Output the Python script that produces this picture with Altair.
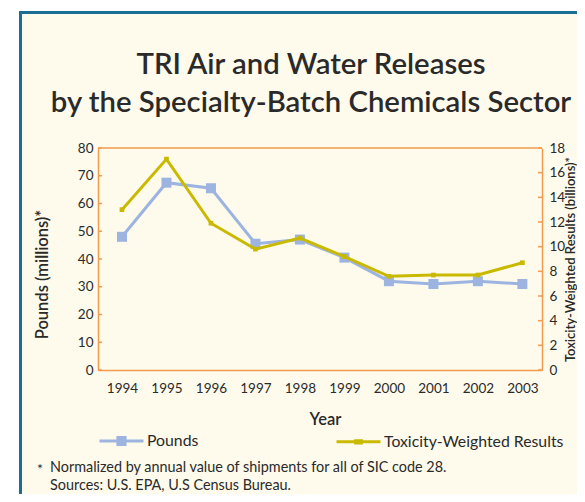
import altair as alt
import pandas as pd

# ---------------- data ----------------
years = ["1994", "1995", "1996", "1997", "1998", "1999", "2000", "2001", "2002", "2003"]
pounds = [48, 67.5, 65.5, 45.5, 47, 40.5, 32, 31, 32, 31]
toxicity = [13, 17.1, 11.9, 9.8, 10.7, 9.2, 7.6, 7.7, 7.7, 8.7]
left_ticks = [0, 10, 20, 30, 40, 50, 60, 70, 80]
right_ticks = [0, 2, 4, 6, 8, 10, 12, 14, 16, 18]
series = ["Pounds", "Toxicity-Weighted Results"]
title_lines = ["TRI Air and Water Releases", "by the Specialty-Batch Chemicals Sector"]
footnote_star = "*"
footnote_lines = ["Normalized by annual value of shipments for all of SIC code 28.",
                  "Sources: U.S. EPA, U.S Census Bureau."]

# ---------------- style ----------------
W, H = 444, 222
ORANGE = "#f39a4c"
BLUE = "#9db4e0"
OLIVE = "#c9b900"
CREAM = "#fefbec"
BORDER = "#1a6e93"
TEXT = "#2a2a2a"
FONT = "Lato"

df = pd.DataFrame({"year": years, "pounds": pounds, "tox": toxicity})
one = pd.DataFrame({"a": [0]})

x_enc = alt.X(
    "year:O",
    scale=alt.Scale(padding=0.49, align=0.55),
    axis=alt.Axis(
        title="Year", labelAngle=0, ticks=False, domainColor=ORANGE, domainWidth=1.5,
        labelPadding=11, labelFontSize=13.5, labelColor=TEXT, labelFont=FONT,
        titleFont=FONT, titleFontSize=16.5, titleFontWeight=600, titleColor=TEXT,
        titleX=227, titleY=54, titleBaseline="alphabetic", titleAlign="center", zindex=1,
    ),
)

y_left = alt.Y(
    "pounds:Q",
    scale=alt.Scale(domain=[0, 80]),
    axis=alt.Axis(
        orient="left", values=left_ticks, title="Pounds (millions)*", grid=False, ticks=False,
        domainColor=ORANGE, domainWidth=1.5, labelPadding=5, labelFontSize=13.5,
        labelColor=TEXT, labelFont=FONT, titleFont=FONT, titleFontSize=16.5,
        titleFontWeight=600, titleColor=TEXT, titleAngle=270, titleX=-51, titleY=126,
        titleBaseline="alphabetic", titleAlign="center", zindex=1,
    ),
)

y_right = alt.Y(
    "tox:Q",
    scale=alt.Scale(domain=[0, 18]),
    axis=alt.Axis(
        orient="right", values=right_ticks, title="Toxicity-Weighted Results (billions)*",
        grid=False, ticks=False, domainColor=ORANGE, domainWidth=1.5, labelPadding=7,
        labelFontSize=13.5, labelColor=TEXT, labelFont=FONT, titleFont=FONT,
        titleFontSize=13, titleFontWeight=600, titleColor=TEXT, titleAngle=270,
        titleX=32.5, titleY=111, titleBaseline="alphabetic", titleAlign="center", zindex=1,
    ),
)

# white margin strips + blue border (panel itself is the cream chart background)
strip_left = alt.Chart(one).mark_rect(fill="white").encode(
    x=alt.value(-100), x2=alt.value(-79), y=alt.value(-160), y2=alt.value(400)
)
strip_top = alt.Chart(one).mark_rect(fill="white").encode(
    x=alt.value(-100), x2=alt.value(600), y=alt.value(-160), y2=alt.value(-137)
)
border_left = alt.Chart(one).mark_rule(color=BORDER, strokeWidth=3).encode(
    x=alt.value(-77.5), y=alt.value(-137), y2=alt.value(400)
)
border_top = alt.Chart(one).mark_rule(color=BORDER, strokeWidth=3).encode(
    x=alt.value(-79), x2=alt.value(600), y=alt.value(-135.5)
)

top_frame = alt.Chart(one).mark_rule(color=ORANGE, strokeWidth=1.5).encode(
    x=alt.value(0), x2=alt.value(W), y=alt.value(0)
)

# left (pounds) group
p_line = alt.Chart(df).mark_line(color=BLUE, strokeWidth=3).encode(x=x_enc, y=y_left)
p_pts = alt.Chart(df).mark_point(shape="square", filled=True, color=BLUE, size=100, opacity=1).encode(x=x_enc, y=y_left)
p_ticks = alt.Chart(pd.DataFrame({"pounds": left_ticks})).mark_rule(color=ORANGE, strokeWidth=1.5).encode(
    y=y_left, x=alt.value(0), x2=alt.value(4)
)
left_layer = alt.layer(p_ticks, p_line, p_pts)

# right (toxicity) group
t_line = alt.Chart(df).mark_line(color=OLIVE, strokeWidth=3).encode(x=x_enc, y=y_right)
t_pts = alt.Chart(df).mark_point(shape="square", filled=True, color=OLIVE, size=22, opacity=1).encode(x=x_enc, y=y_right)
t_ticks = alt.Chart(pd.DataFrame({"tox": right_ticks})).mark_rule(color=ORANGE, strokeWidth=1.5).encode(
    y=y_right, x=alt.value(W - 4), x2=alt.value(W)
)
right_layer = alt.layer(t_ticks, t_line, t_pts)

# legend (empty layer carrying color + shape scales)
path_pounds = ("M-1,0H1M-0.23,-0.16H0.23M-0.23,-0.08H0.23M-0.23,0H0.23"
               "M-0.23,0.08H0.23M-0.23,0.16H0.23")
path_tox = "M-1,0H1M-0.2,-0.05H0.2M-0.2,0.05H0.2"
leg = alt.Legend(
    title=None, orient="none", legendX=0, legendY=269, direction="horizontal", columns=2,
    columnPadding=131, labelFont=FONT, labelFontSize=15.8, labelColor=TEXT, labelOffset=2,
    labelLimit=400, symbolSize=1936, symbolStrokeWidth=3, padding=0, zindex=1,
)
legend_layer = alt.Chart(pd.DataFrame({"series": series})).transform_filter("datum.series == 'none'").mark_point(
    filled=False, strokeWidth=3, opacity=1
).encode(
    color=alt.Color("series:N", scale=alt.Scale(domain=series, range=[BLUE, OLIVE]), legend=leg),
    shape=alt.Shape("series:N", scale=alt.Scale(domain=series, range=[path_pounds, path_tox]), legend=leg),
)

# titles and notes as text
def text_mark(txt, xv, yv, size, weight="normal", align="center"):
    return alt.Chart(one).mark_text(
        font=FONT, fontSize=size, fontWeight=weight, color=TEXT, align=align, baseline="alphabetic"
    ).encode(text=alt.value(txt), x=alt.value(xv), y=alt.value(yv))

title1 = text_mark(title_lines[0], 213, -74, 29.3, 600)
title2 = text_mark(title_lines[1], 213, -36, 29.3, 600)
fn_star = text_mark(footnote_star, -61, 326, 14, "normal", "left")
fn1 = text_mark(footnote_lines[0], -48, 324, 14.4, "normal", "left")
fn2 = text_mark(footnote_lines[1], -48, 342, 14.4, "normal", "left")

chart = alt.layer(
    strip_left, strip_top, border_left, border_top, top_frame, left_layer, right_layer,
    legend_layer, title1, title2, fn_star, fn1, fn2
).resolve_scale(y="independent").properties(
    width=W, height=H,
    padding={"left": 90, "top": 140, "right": 35, "bottom": 124},
    autosize=alt.AutoSizeParams(type="none"),
    background=CREAM,
).configure_view(stroke=None).configure_axis(zindex=1)

chart.save("out.html", embed_options={"renderer": "svg", "actions": False})
